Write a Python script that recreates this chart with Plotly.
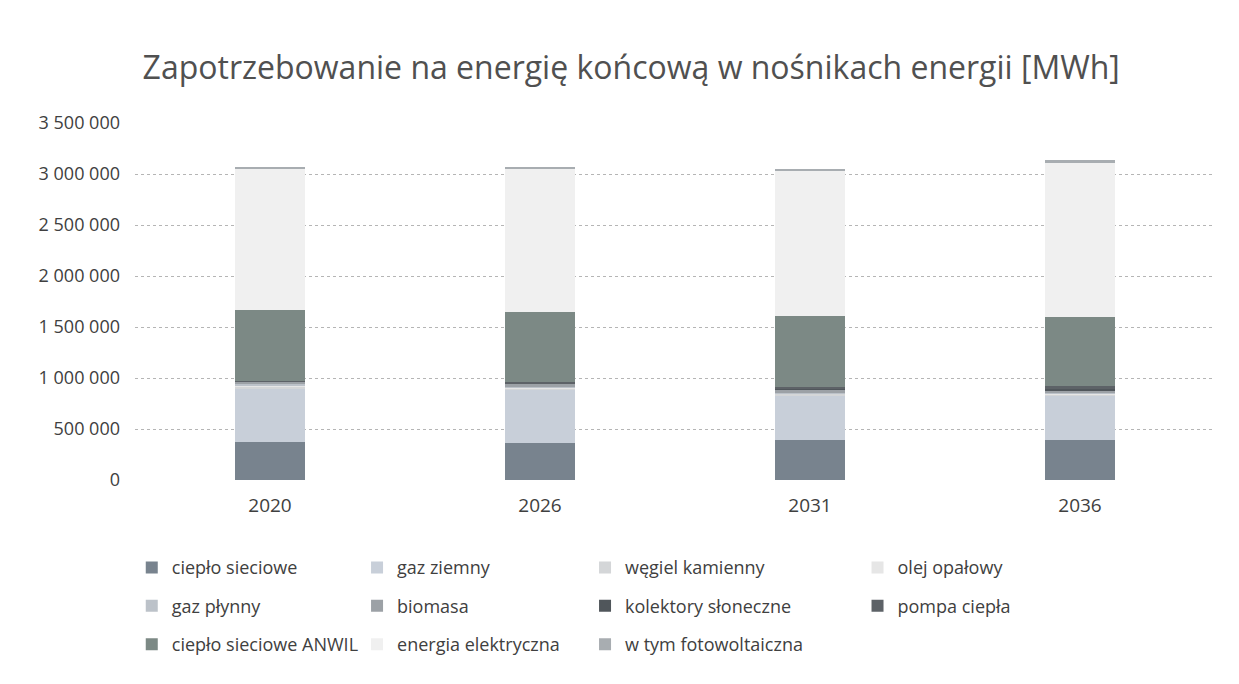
import plotly.graph_objects as go

years = ["2020", "2026", "2031", "2036"]

series_names = [
    "ciepło sieciowe", "gaz ziemny", "węgiel kamienny", "olej opałowy",
    "gaz płynny", "biomasa", "kolektory słoneczne", "pompa ciepła",
    "ciepło sieciowe ANWIL", "energia elektryczna", "w tym fotowoltaiczna",
]

cieplo_sieciowe = [370000, 360000, 390000, 390000]
gaz_ziemny = [520000, 520000, 440000, 440000]
wegiel_kamienny = [30000, 20000, 15000, 10000]
olej_opalowy = [10000, 8000, 6000, 5000]
gaz_plynny = [8000, 7000, 6000, 5000]
biomasa = [30000, 30000, 30000, 30000]
kolektory_sloneczne = [2000, 4000, 6000, 8000]
pompa_ciepla = [5000, 10000, 20000, 30000]
cieplo_anwil = [690000, 690000, 690000, 680000]
energia_elektryczna = [1390000, 1400000, 1430000, 1510000]
fotowoltaiczna = [5000, 10000, 20000, 30000]

values = [
    cieplo_sieciowe, gaz_ziemny, wegiel_kamienny, olej_opalowy, gaz_plynny,
    biomasa, kolektory_sloneczne, pompa_ciepla, cieplo_anwil,
    energia_elektryczna, fotowoltaiczna,
]

colors = [
    "#78838e", "#c8cfd9", "#d4d6d8", "#e6e6e6", "#bcc2c9", "#9ca1a6",
    "#50565b", "#5d6267", "#7c8985", "#f0f0f0", "#a8adb1",
]

# legend column assignment (4 columns, filled row by row like the original)
legend_ids = ["legend", "legend2", "legend3", "legend4"]

fig = go.Figure()
for i, (name, vals, col) in enumerate(zip(series_names, values, colors)):
    fig.add_trace(go.Bar(
        x=years, y=vals, name=name,
        marker=dict(color=col, line=dict(width=0)),
        legend=legend_ids[i % 4],
        legendgroup="g%d" % i,
    ))

legend_x = [-0.003, 0.2056, 0.4167, 0.669]
legend_common = dict(
    orientation="v", y=-0.194, yanchor="top", xanchor="left",
    traceorder="grouped", font=dict(size=18, color="#404040"),
    itemwidth=30, tracegroupgap=12, bgcolor="rgba(0,0,0,0)",
)

layout_legends = {}
for lid, lx in zip(legend_ids, legend_x):
    layout_legends[lid] = dict(x=lx, **legend_common)

fig.update_layout(
    barmode="stack",
    bargap=0.74,
    width=1239, height=684,
    paper_bgcolor="white", plot_bgcolor="white",
    separators=". ",
    font=dict(family="Open Sans, Liberation Sans, sans-serif", color="#404040", size=18),
    title=dict(
        text="Zapotrzebowanie na energię końcową w nośnikach energii [MWh]",
        x=0.503, xanchor="center", y=0.912, yanchor="middle",
        font=dict(size=32, color="#505050"),
    ),
    margin=dict(l=127, r=32, t=115, b=212),
    xaxis=dict(showgrid=False, showline=False, ticks="", tickfont=dict(size=19),
               ticklabelstandoff=12),
    yaxis=dict(
        range=[0, 3500001], dtick=500000, tickformat=",d",
        showgrid=True, gridcolor="#b5b5b5", griddash="dot", gridwidth=1,
        zeroline=False, ticks="", tickfont=dict(size=18),
        ticklabelstandoff=14,
    ),
    **layout_legends,
)

fig.write_html("out.html")
